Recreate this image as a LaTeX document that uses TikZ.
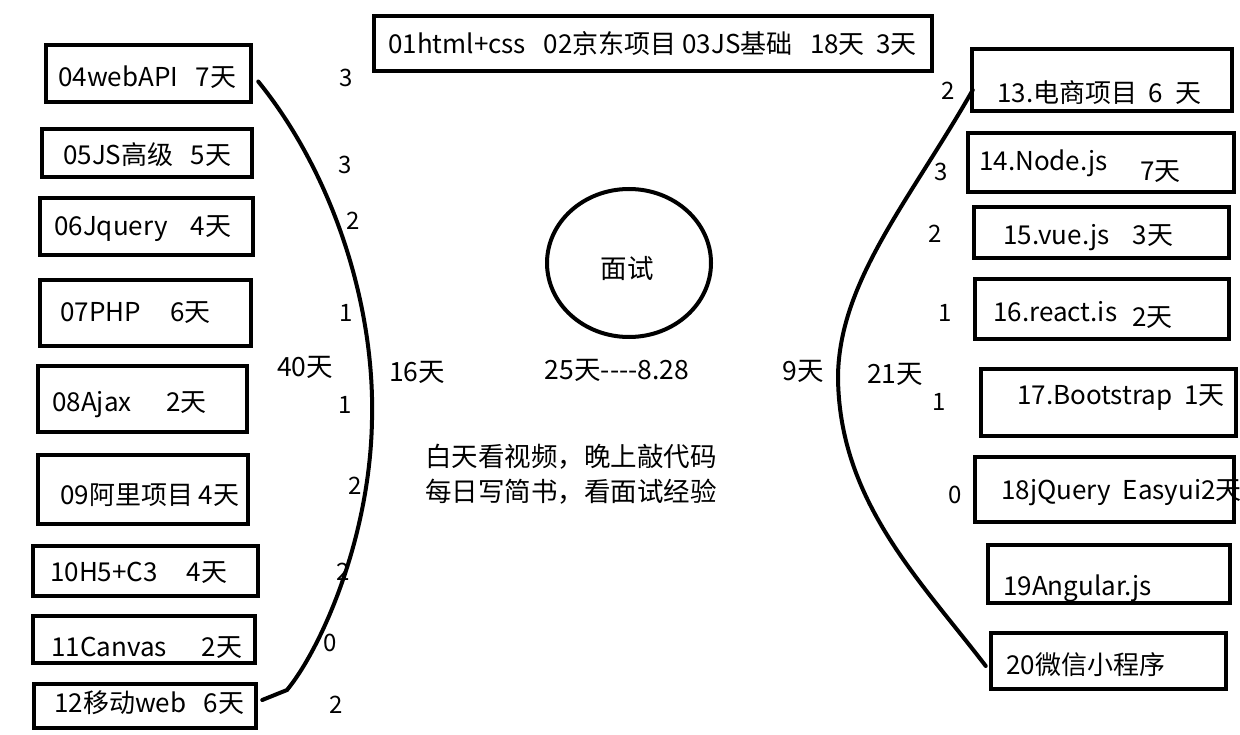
\documentclass[tikz,border=0pt]{standalone}
\usepackage{fontspec}
\setmainfont{Noto Sans CJK SC}
\usetikzlibrary{shapes.geometric}
\begin{document}
\begin{tikzpicture}[x=1pt,y=-1pt,
  box/.style={draw,line width=4.5pt,inner sep=0pt},
  txt/.style={anchor=west,inner sep=0pt,font=\fontsize{26}{28}\selectfont},
  num/.style={inner sep=0pt,font=\fontsize{24}{28}\selectfont},
  big/.style={inner sep=0pt,font=\fontsize{26.5}{28}\selectfont},
  curve/.style={line width=4pt,line cap=round}]
\useasboundingbox (0,0) rectangle (1240,735);
% boxes
\newcommand{\bx}[5]{\node[box,minimum width=#4-#2,minimum height=#5-#3] (#1) at ({(#2+#4)/2},{(#3+#5)/2}) {};}
\bx{n01}{374}{16}{932}{71}
\bx{n04}{46}{45}{251}{102}
\bx{n05}{42}{129}{252}{177}
\bx{n06}{40}{198}{253}{255}
\bx{n07}{40}{280}{251}{346}
\bx{n08}{38}{366}{247}{432}
\bx{n09}{38}{455}{248}{524}
\bx{n10}{33}{546}{258}{596}
\bx{n11}{33}{616}{255}{663}
\bx{n12}{34}{684}{256}{728}
\bx{n13}{972}{49}{1232}{111}
\bx{n14}{968}{133}{1234}{192}
\bx{n15}{974}{207}{1229}{258}
\bx{n16}{975}{279}{1229}{339}
\bx{n17}{981}{369}{1236}{436}
\bx{n18}{975}{457}{1234}{522}
\bx{n19}{988}{545}{1230}{603}
\bx{n20}{991}{633}{1226}{689}
% box texts
\node[txt] (t01) at (388,44) {01html+css\ \ \ 02京东项目 03JS基础\ \ \ 18天\ \ 3天};
\node[txt] (t04) at (58,77) {04webAPI\ \ \ 7天};
\node[txt] (t05) at (63,155) {05JS高级\ \ \ 5天};
\node[txt] (t06) at (54,229) {06Jquery\ \ \ \ 4天};
\node[txt] (t07) at (60,313) {07PHP\ \ \ \ \ 6天};
\node[txt] (t08) at (52,405) {08Ajax\ \ \ \ \ \ 2天};
\node[txt] (t09) at (60,495) {09阿里项目 4天};
\node[txt] (t10) at (50,573) {10H5+C3\ \ \ \ \ 4天};
\node[txt] (t11) at (51,648) {11Canvas\ \ \ \ \ \ 2天};
\node[txt] (t12) at (54,703) {12移动web\ \ \ 6天};
\node[txt] (t13) at (997,93) {13.电商项目\ \ 6\ \ 天};
\node[txt] (t14) at (979,163) {14.Node.js};
\node[txt] (t14b) at (1140,172) {7天};
\node[txt] (t15) at (1003,238) {15.vue.js\ \ \ \ 3天};
\node[txt] (t16) at (993,312) {16.react.is};
\node[txt] (t16b) at (1132,318) {2天};
\node[txt] (t17) at (1017,398) {17.Bootstrap\ \ 1天};
\node[txt] (t18) at (1001,493) {18jQuery\ \ Easyui2天};
\node[txt] (t19) at (1003,588) {19Angular.js};
\node[txt] (t20) at (1006,665) {20微信小程序};
% center
\node[draw,ellipse,line width=4pt,minimum width=164pt,minimum height=148pt,inner sep=0pt] (iv) at (629,263) {};
\node[big] (ivt) at (627,268) {面试};
\node[big] (d25) at (617,370) {25天-{}-{}-{}-8.28};
\node[big] (d16) at (417,372) {16天};
\node[big] (d40) at (305,367) {40天};
\node[big] (d9) at (803,371) {9天};
\node[big] (d21) at (895,374) {21天};
\node[big] (m1) at (571,457) {白天看视频，晚上敲代码};
\node[big] (m2) at (571,492) {每日写简书，看面试经验};
% left numbers
\node[num] (l1) at (346,78) {3};
\node[num] (l2) at (345,165) {3};
\node[num] (l3) at (353,221) {2};
\node[num] (l4) at (346,313) {1};
\node[num] (l5) at (345,405) {1};
\node[num] (l6) at (355,486) {2};
\node[num] (l7) at (343,572) {2};
\node[num] (l8) at (330,643) {0};
\node[num] (l9) at (336,705) {2};
% right numbers
\node[num] (r1) at (948,91) {2};
\node[num] (r2) at (941,172) {3};
\node[num] (r3) at (935,234) {2};
\node[num] (r4) at (945,313) {1};
\node[num] (r5) at (939,402) {1};
\node[num] (r6) at (955,495) {0};
% curves
\coordinate (lk) at (287,690);
\coordinate (lm) at (372,420);
\draw[curve] ([shift={(5,8)}]n04.east) .. controls (330,170) and (375,300) .. (lm)
  .. controls (370,540) and (320,650) .. (lk) -- ([shift={(4,-6)}]n12.east);
\coordinate (rm) at (838,375);
\draw[curve] ([shift={(3,10)}]n13.west) .. controls (910,200) and (840,280) .. (rm)
  .. controls (838,500) and (920,580) .. ([shift={(-3,5)}]n20.west);
\end{tikzpicture}
\end{document}
